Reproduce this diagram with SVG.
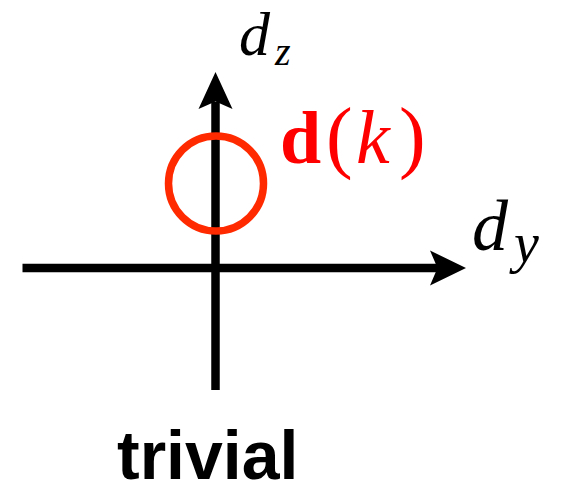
<svg xmlns="http://www.w3.org/2000/svg" width="569" height="494" viewBox="0 0 569 494">
<style>
.ax{stroke:#000;stroke-width:8.5;fill:none}
.ah{fill:#000;stroke:none}
.m{font-family:"Liberation Serif","DejaVu Serif",serif;font-style:italic;fill:#000}
.r{font-family:"Liberation Serif","DejaVu Serif",serif;fill:#f00}
.lbl{font-family:"Liberation Sans",Arial,sans-serif;font-weight:bold;fill:#000}
</style>
<rect width="569" height="494" fill="#fff"/>
<g id="axes">
<line class="ax" x1="22.5" y1="268" x2="438" y2="268"/>
<polygon class="ah" points="466,268 430,250.5 437.5,268 430,285.5"/>
<line class="ax" x1="215.5" y1="390" x2="215.5" y2="102"/>
<polygon class="ah" points="215.5,72 232.5,109 215.5,101.5 198.5,109"/>
</g>
<g id="circle">
<circle cx="216" cy="183.5" r="47.5" fill="none" stroke="#ff2a00" stroke-width="7.5"/>
</g>
<g id="label-dz">
<text class="m" x="239" y="55" font-size="62">d</text>
<text class="m" x="275" y="65" font-size="40">z</text>
</g>
<g id="label-dk">
<text class="r" x="280" y="163" font-size="74" font-weight="bold">d</text>
<text class="r" x="326" y="163" font-size="80">(</text>
<text class="r" x="356" y="163" font-size="76" font-style="italic">k</text>
<text class="r" x="399" y="163" font-size="80">)</text>
</g>
<g id="label-dy">
<text class="m" x="472" y="250" font-size="72">d</text>
<text class="m" x="514" y="262" font-size="56">y</text>
</g>
<g id="label-trivial">
<text class="lbl" x="117" y="479" font-size="68">trivial</text>
</g>
</svg>
